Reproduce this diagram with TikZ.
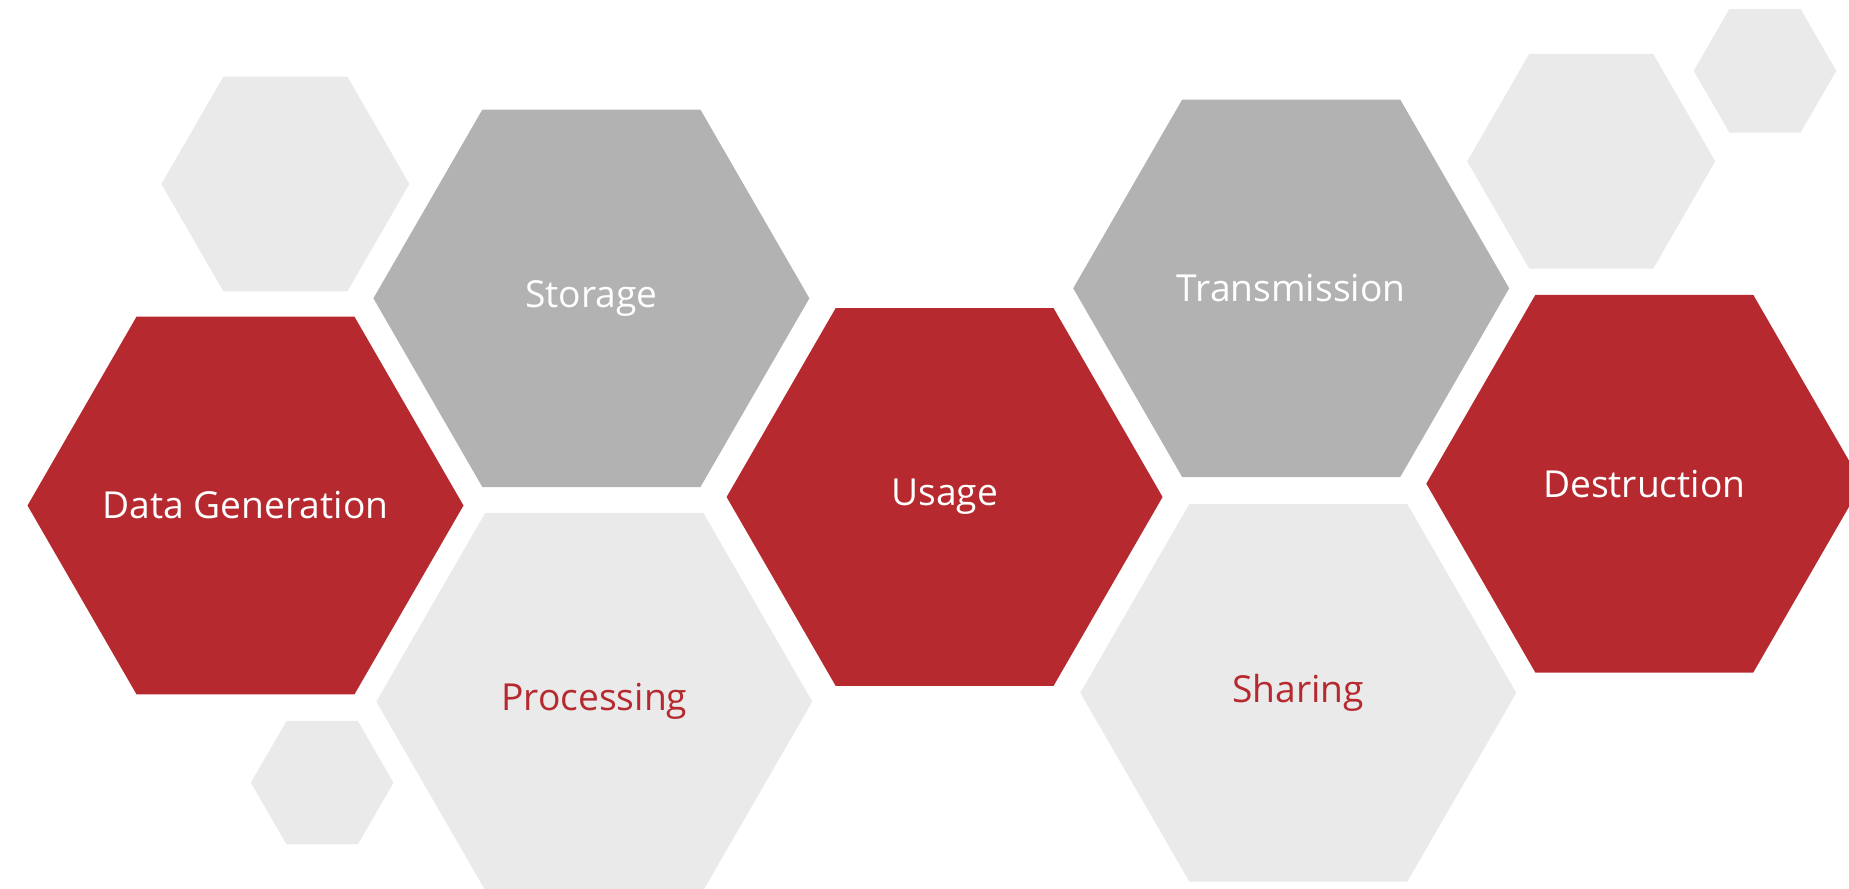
\documentclass[tikz,border=0pt]{standalone}
\usepackage{fontspec}
\setmainfont{Open Sans}
\usepackage{tikz}
\usetikzlibrary{shapes.geometric}
\definecolor{hx_red}{RGB}{181, 41, 47}
\definecolor{hx_grey}{RGB}{178, 178, 178}
\definecolor{hx_light}{RGB}{234, 234, 234}
\tikzstyle{hx}=[regular polygon,regular polygon sides=6,inner sep=0pt,
  minimum size=218pt,font=\fontsize{18.6}{22}\selectfont]
\tikzstyle{rh}=[hx,fill=hx_red,text=white]
\tikzstyle{gh}=[hx,fill=hx_grey,text=white]
\tikzstyle{lh}=[hx,fill=hx_light,text=hx_red]
\tikzstyle{lhm}=[hx,fill=hx_light,minimum size=124pt]
\tikzstyle{lhs}=[hx,fill=hx_light,minimum size=71.3pt]
\begin{document}
\begin{tikzpicture}[x=0.5pt, y=-0.5pt]
    \useasboundingbox (0, 0) rectangle (1849, 889);
    \clip (0, 0) rectangle (1849, 889);
    \node [style=rh] (0) at (245.5, 505.5) {\makebox[0pt]{Data Generation}};
    \node [style=gh] (1) at (591.4, 298.3) {Storage};
    \node [style=lh] (2) at (594.3, 701.6) {Processing};
    \node [style=rh] (3) at (944.6, 497) {Usage};
    \node [style=gh] (4) at (1291.2, 288.3) {\makebox[0pt]{Transmission}};
    \node [style=lh] (5) at (1298.3, 692.8) {Sharing};
    \node [style=rh] (6) at (1644.3, 483.7) {Destruction};
    \node [style=lhm] (7) at (285.4, 184) {};
    \node [style=lhs] (8) at (322.2, 782.7) {};
    \node [style=lhm] (9) at (1591.2, 161.3) {};
    \node [style=lhs] (10) at (1765, 70.8) {};
\end{tikzpicture}
\end{document}
